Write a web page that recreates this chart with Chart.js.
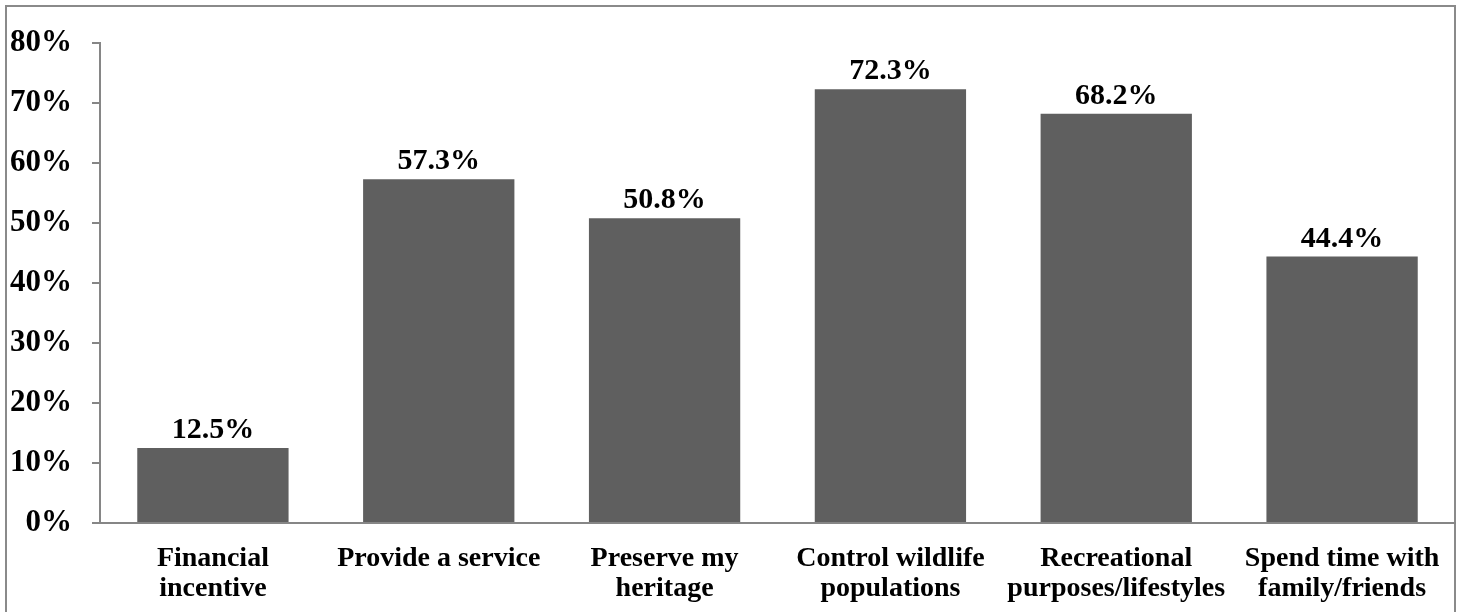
<!DOCTYPE html>
<html>
<head>
<meta charset="utf-8">
<script src="https://cdn.jsdelivr.net/npm/chart.js@4/dist/chart.umd.min.js"></script>
<style>
  html, body { margin: 0; padding: 0; background: #ffffff; }
  canvas { display: block; }
</style>
</head>
<body>
<canvas id="chart" width="1464" height="612"></canvas>
<script>
// Reasons for participating, share of respondents (%)
const categories = [
  ["Financial", "incentive"],
  "Provide a service",
  ["Preserve my", "heritage"],
  ["Control wildlife", "populations"],
  ["Recreational", "purposes/lifestyles"],
  ["Spend time with", "family/friends"]
];
const shares = [12.5, 57.3, 50.8, 72.3, 68.2, 44.4];
const yTicks = [0, 10, 20, 30, 40, 50, 60, 70, 80];

const FONT_FAMILY = '"Liberation Serif", "Times New Roman", serif';

// Gray frame around the whole figure
const framePlugin = {
  id: 'frame',
  beforeDraw(chart) {
    const ctx = chart.ctx;
    ctx.save();
    ctx.fillStyle = '#ffffff';
    ctx.fillRect(0, 0, chart.width, chart.height);
    ctx.strokeStyle = '#8a8a8a';
    ctx.lineWidth = 2;
    ctx.strokeRect(6, 6, 1449, 1000);
    ctx.restore();
  }
};

// Value labels above each bar
const valueLabels = {
  id: 'valueLabels',
  afterDatasetsDraw(chart) {
    const ctx = chart.ctx;
    const meta = chart.getDatasetMeta(0);
    ctx.save();
    ctx.font = 'bold 30px ' + FONT_FAMILY;
    ctx.fillStyle = '#000000';
    ctx.textAlign = 'center';
    ctx.textBaseline = 'alphabetic';
    meta.data.forEach((bar, i) => {
      ctx.fillText(shares[i].toFixed(1) + '%', bar.x, bar.y - 10);
    });
    ctx.restore();
  }
};

new Chart(document.getElementById('chart'), {
  type: 'bar',
  data: {
    labels: categories,
    datasets: [{
      data: shares,
      backgroundColor: '#5f5f5f',
      borderWidth: 0,
      categoryPercentage: 1.0,
      barPercentage: 0.67
    }]
  },
  options: {
    responsive: false,
    animation: false,
    devicePixelRatio: 1,
    layout: { padding: { left: 0, right: 9, top: 43, bottom: 0 } },
    plugins: {
      legend: { display: false },
      tooltip: { enabled: false }
    },
    scales: {
      x: {
        grid: { display: false },
        border: { display: true, color: '#868686', width: 2 },
        ticks: {
          color: '#000000',
          font: { family: FONT_FAMILY, size: 28, weight: 'bold', lineHeight: 1.07 },
          maxRotation: 0,
          autoSkip: false,
          padding: 13
        },
        afterFit(scale) { scale.height = 89; }
      },
      y: {
        min: 0,
        max: 80,
        afterBuildTicks(scale) {
          scale.ticks = yTicks.map(v => ({ value: v }));
        },
        grid: {
          drawOnChartArea: false,
          drawTicks: true,
          tickLength: 8,
          color: '#868686',
          lineWidth: 2
        },
        border: { display: true, color: '#868686', width: 2 },
        ticks: {
          color: '#000000',
          font: { family: FONT_FAMILY, size: 31, weight: 'bold' },
          padding: 20,
          callback: v => v + '%'
        },
        afterFit(scale) { scale.width = 100; }
      }
    }
  },
  plugins: [framePlugin, valueLabels]
});
</script>
</body>
</html>
